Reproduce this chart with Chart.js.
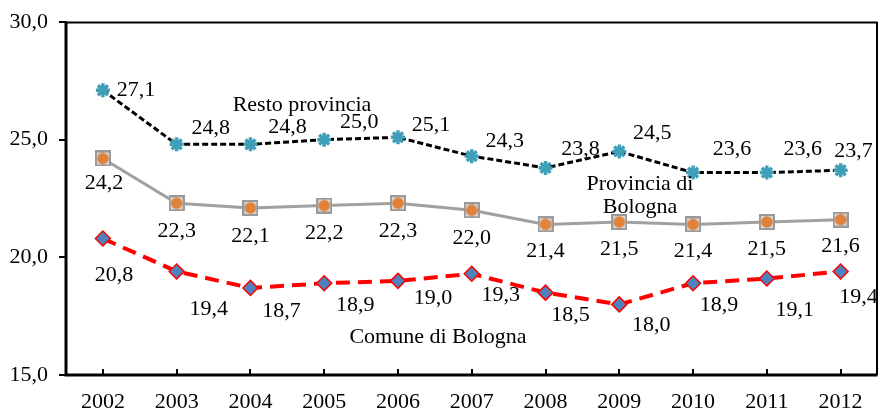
<!DOCTYPE html>
<html>
<head>
<meta charset="utf-8">
<script src="https://cdn.jsdelivr.net/npm/chart.js@4/dist/chart.umd.min.js"></script>
<style>
  html, body { margin: 0; padding: 0; background: #fff; }
  #wrap { width: 888px; height: 413px; position: relative; }
</style>
</head>
<body>
<div id="wrap"><canvas id="c" width="888" height="413"></canvas></div>
<script>
// ---- data ----
const years = ['2002','2003','2004','2005','2006','2007','2008','2009','2010','2011','2012'];
const restoProvincia = [27.1, 24.8, 24.8, 25.0, 25.1, 24.3, 23.8, 24.5, 23.6, 23.6, 23.7];
const provinciaBologna = [24.2, 22.3, 22.1, 22.2, 22.3, 22.0, 21.4, 21.5, 21.4, 21.5, 21.6];
const comuneBologna = [20.8, 19.4, 18.7, 18.9, 19.0, 19.3, 18.5, 18.0, 18.9, 19.1, 19.4];
const yTicks = [15, 20, 25, 30];

// ---- label offsets (px) ----
const restoOff = [[33,0],[34,-16],[37,-17],[35,-17],[33,-12],[33,-15],[35,-19],[33,-18],[39,-23],[36,-23],[13,-19]];
const provOff = [[1,25],[0,28],[0,28],[0,28],[0,28],[0,28],[0,27],[0,27],[0,27],[0,27],[0,27]];
const comuneOff = [[11,37],[32,38],[31,23],[31,22],[35,17],[29,21],[25,23],[32,21],[26,22],[28,32],[18,26]];

const FONT = '"Liberation Serif", "Times New Roman", serif';
const FS = 22;

function fmt(v){ return v.toFixed(1).replace('.', ','); }

// marker for Provincia: gray square with orange circle
const provMarker = document.createElement('canvas');
provMarker.width = 16; provMarker.height = 16;
(function(){
  const g = provMarker.getContext('2d');
  g.fillStyle = '#d9d9d9';
  g.fillRect(1,1,14,14);
  g.strokeStyle = '#9a9a9a';
  g.lineWidth = 2;
  g.strokeRect(1,1,14,14);
  g.fillStyle = '#e0823a';
  g.beginPath(); g.arc(8,8,5.8,0,Math.PI*2); g.fill();
})();

const annotations = [
  {text:'Resto provincia', x:302, y:105},
  {text:'Provincia di', x:640, y:184},
  {text:'Bologna', x:640, y:207},
  {text:'Comune di Bologna', x:438, y:337}
];

const framePlugin = {
  id: 'frame',
  afterDraw(chart){
    const ctx = chart.ctx;
    const a = chart.chartArea;
    const xs = chart.scales.x, ys = chart.scales.y;
    ctx.save();
    ctx.strokeStyle = '#000';
    ctx.lineWidth = 2;
    ctx.beginPath();
    ctx.moveTo(a.left, a.top + 0.5); ctx.lineTo(a.right, a.top + 0.5);
    ctx.moveTo(a.right - 0.5, a.top); ctx.lineTo(a.right - 0.5, a.bottom);
    ctx.stroke();
    ctx.lineWidth = 3;
    ctx.beginPath();
    ctx.moveTo(a.left, a.top - 0.5); ctx.lineTo(a.left, a.bottom + 1.5);
    ctx.moveTo(a.left - 1.5, a.bottom); ctx.lineTo(a.right, a.bottom);
    ctx.stroke();
    ctx.lineWidth = 2;
    ctx.beginPath();
    yTicks.forEach(v => {
      const py = Math.round(ys.getPixelForValue(v));
      ctx.moveTo(a.left - 7, py); ctx.lineTo(a.left, py);
    });
    years.forEach((y, i) => {
      const px = Math.round(xs.getPixelForValue(i));
      ctx.moveTo(px, a.bottom); ctx.lineTo(px, a.bottom - 6);
    });
    ctx.stroke();

    ctx.fillStyle = '#000';
    ctx.font = FS + 'px ' + FONT;
    ctx.textAlign = 'center';
    ctx.textBaseline = 'middle';
    const sets = [[restoProvincia, restoOff],[provinciaBologna, provOff],[comuneBologna, comuneOff]];
    sets.forEach(([vals, offs]) => {
      vals.forEach((v, i) => {
        const px = xs.getPixelForValue(i), py = ys.getPixelForValue(v);
        ctx.fillText(fmt(v), px + offs[i][0], py + offs[i][1]);
      });
    });
    annotations.forEach(t => ctx.fillText(t.text, t.x, t.y));
    ctx.restore();
  }
};

new Chart(document.getElementById('c'), {
  type: 'line',
  data: {
    labels: years,
    datasets: [
      {
        label: 'Resto provincia',
        data: restoProvincia,
        borderColor: '#000',
        borderWidth: 3,
        borderDash: [6, 3],
        pointStyle: 'star',
        pointRadius: 7,
        pointBorderColor: '#3f9fb8',
        pointBackgroundColor: '#3f9fb8',
        pointBorderWidth: 3.5,
        tension: 0
      },
      {
        label: 'Provincia di Bologna',
        data: provinciaBologna,
        borderColor: '#a0a0a0',
        borderWidth: 3,
        pointStyle: provMarker,
        tension: 0
      },
      {
        label: 'Comune di Bologna',
        data: comuneBologna,
        borderColor: '#ff0000',
        borderWidth: 4,
        borderDash: [14, 8],
        pointStyle: 'rectRot',
        pointRadius: 7.5,
        pointBackgroundColor: '#4f81bd',
        pointBorderColor: '#ff0000',
        pointBorderWidth: 1.5,
        tension: 0
      }
    ]
  },
  options: {
    responsive: false,
    animation: false,
    layout: { padding: { top: 22, right: 2, left: 0, bottom: 0 } },
    plugins: { legend: { display: false }, tooltip: { enabled: false } },
    scales: {
      x: {
        offset: true,
        grid: { display: false, drawTicks: false },
        border: { display: false },
        ticks: { color: '#000', font: { family: FONT, size: FS }, padding: 14, maxRotation: 0 },
        afterFit(s){ s.height = 38; s.paddingLeft = 0; s.paddingRight = 0; }
      },
      y: {
        min: 15, max: 30,
        afterBuildTicks(s){ s.ticks = yTicks.map(v => ({value: v})); },
        grid: { display: false, drawTicks: false },
        border: { display: false },
        ticks: { color: '#000', font: { family: FONT, size: FS }, padding: 18, callback: v => fmt(v) },
        afterFit(s){ s.width = 66; s.paddingTop = 0; s.paddingBottom = 0; }
      }
    }
  },
  plugins: [framePlugin]
});
</script>
</body>
</html>
